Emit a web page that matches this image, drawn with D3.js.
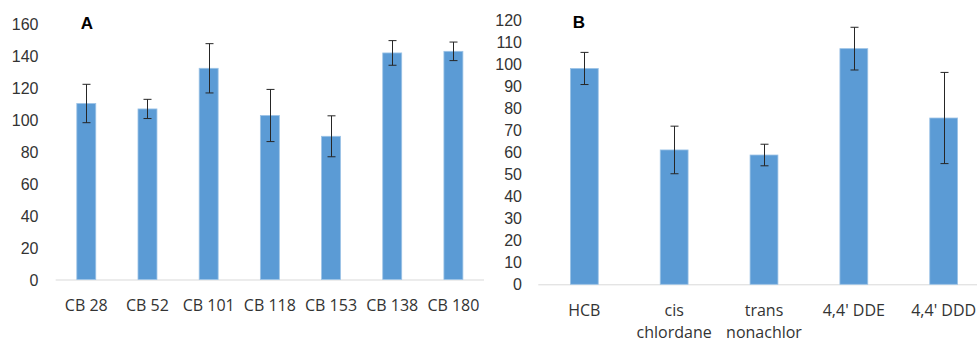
<!DOCTYPE html>
<html>
<head>
<meta charset="utf-8">
<script src="https://cdn.jsdelivr.net/npm/d3@7"></script>
<style>
  body { margin: 0; background: #fff; }
  svg { display: block; font-family: "Open Sans", Lato, sans-serif; }
  .tick text { fill: #333; }
</style>
</head>
<body>
<div id="chart"></div>
<script>
// panel A data
const catsA = ["CB 28", "CB 52", "CB 101", "CB 118", "CB 153", "CB 138", "CB 180"];
const valsA = [110, 106.6, 132, 102.5, 89.5, 141.6, 142.6];
const errsA = [12, 6, 15.4, 16.3, 12.8, 7.7, 5.8];
const ticksA = [0, 20, 40, 60, 80, 100, 120, 140, 160];

// panel B data
const catsB = ["HCB", "cis chlordane", "trans nonachlor", "4,4' DDE", "4,4' DDD"];
const valsB = [98, 61, 58.7, 107, 75.5];
const errsB = [7.3, 10.8, 4.9, 9.7, 20.7];
const ticksB = [0, 10, 20, 30, 40, 50, 60, 70, 80, 90, 100, 110, 120];

const width = 977, height = 342;
const barColor = "#5b9bd5";

const svg = d3.select("#chart")
    .append("svg")
    .attr("width", width)
    .attr("height", height);

function drawPanel(opt) {
    const x = d3.scaleBand()
        .domain(opt.cats)
        .range([opt.left, opt.right])
        .paddingInner(0.69)
        .paddingOuter(0.345);

    const y = d3.scaleLinear()
        .domain([0, opt.max])
        .range([opt.bottom, opt.top]);

    const g = svg.append("g");

    // y axis labels only (no line)
    const yAxis = g.append("g")
        .attr("transform", `translate(${opt.labelX}, 0)`)
        .call(d3.axisLeft(y).tickValues(opt.ticks).tickSize(0).tickPadding(0));
    yAxis.select(".domain").remove();
    yAxis.selectAll("text")
        .style("font-size", "16px")
        .attr("dy", "0.35em");

    // baseline
    g.append("line")
        .attr("x1", opt.lineStart)
        .attr("x2", opt.right)
        .attr("y1", y(0) + 0.5)
        .attr("y2", y(0) + 0.5)
        .attr("stroke", "#d9d9d9")
        .attr("stroke-width", 1);

    // bars
    g.selectAll(".bar")
        .data(opt.cats)
        .enter()
        .append("rect")
        .attr("class", "bar")
        .attr("x", d => x(d))
        .attr("y", (d, i) => y(opt.vals[i]))
        .attr("width", x.bandwidth())
        .attr("height", (d, i) => y(0) - y(opt.vals[i]))
        .attr("fill", barColor)
        .attr("stroke", "#9cc3e6")
        .attr("stroke-width", 0.8);

    // error bars
    const cap = 4;
    opt.cats.forEach((c, i) => {
        const cx = Math.round(x(c) + x.bandwidth() / 2) + 0.5;
        const hi = y(opt.vals[i] + opt.errs[i]);
        const lo = y(opt.vals[i] - opt.errs[i]);
        const eg = g.append("g")
            .attr("stroke", "#262626")
            .attr("stroke-width", 1);
        eg.append("line").attr("x1", cx).attr("x2", cx).attr("y1", hi).attr("y2", lo);
        eg.append("line").attr("x1", cx - cap).attr("x2", cx + cap).attr("y1", hi).attr("y2", hi);
        eg.append("line").attr("x1", cx - cap).attr("x2", cx + cap).attr("y1", lo).attr("y2", lo);
    });

    // category labels
    opt.cats.forEach(c => {
        const words = opt.wrap ? c.split(" ") : [c];
        const lines = (opt.wrap && words.length > 1 && !c.startsWith("4,4")) ? words : [c];
        const t = g.append("text")
            .attr("x", x(c) + x.bandwidth() / 2)
            .attr("y", opt.labelY)
            .attr("text-anchor", "middle")
            .style("font-size", "16px")
            .style("fill", "#333");
        lines.forEach((l, k) => {
            t.append("tspan")
                .attr("x", x(c) + x.bandwidth() / 2)
                .attr("dy", k === 0 ? "0.35em" : "1.4em")
                .text(l);
        });
    });

    // panel letter
    g.append("text")
        .attr("x", opt.letterX)
        .attr("y", opt.letterY)
        .attr("text-anchor", "middle")
        .attr("dy", "0.35em")
        .style("font-family", "'Liberation Sans', Arial, sans-serif")
        .style("font-size", "17px")
        .style("font-weight", "bold")
        .style("fill", "#000")
        .text(opt.letter);
}

drawPanel({
    cats: catsA, vals: valsA, errs: errsA, ticks: ticksA, max: 160,
    left: 55.7, right: 484, lineStart: 55.7, top: 23.5, bottom: 279.5,
    labelX: 38.5, labelY: 305, letter: "A", letterX: 87, letterY: 23, wrap: false
});

drawPanel({
    cats: catsB, vals: valsB, errs: errsB, ticks: ticksB, max: 120,
    left: 539.4, right: 988.6, lineStart: 538.3, top: 20, bottom: 284.3,
    labelX: 522, labelY: 310, letter: "B", letterX: 579, letterY: 22.5, wrap: true
});
</script>
</body>
</html>
